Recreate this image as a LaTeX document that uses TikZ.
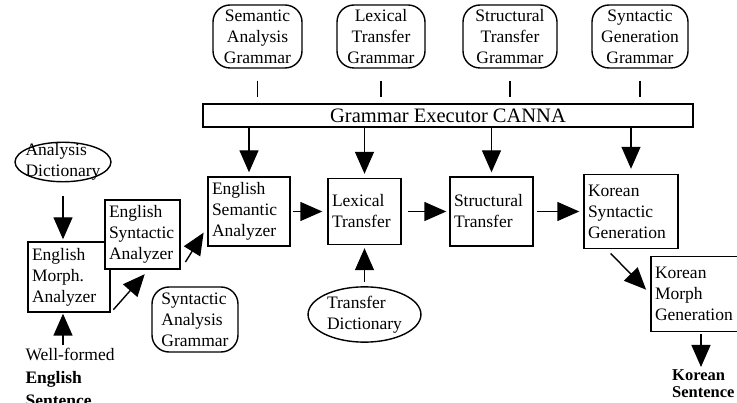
\documentclass[tikz,border=0pt]{standalone}
\usepackage{fontspec}
\setmainfont{Liberation Serif}
\usetikzlibrary{arrows.meta,positioning,shapes.geometric}

\begin{document}
\begin{tikzpicture}[x=1pt,y=-1pt,on grid,
    every node/.style={font=\fontsize{17.5}{21}\selectfont},
    proc/.style={draw,fill=white,line width=1.4pt,align=left,inner xsep=4pt,inner ysep=0pt},
    gram/.style={draw,fill=white,rounded corners=17pt,line width=1.4pt,align=center,inner sep=0pt,minimum height=63pt},
    dict/.style={draw,ellipse,line width=1.4pt,align=left},
    flow/.style={-{Triangle[length=22pt,width=19pt]},line width=1.4pt},
    tick/.style={line width=1.4pt,shorten <=12pt,shorten >=6pt}]
    \useasboundingbox (0,0) rectangle (737,403);
    % main row
    \node[proc,text width=74pt,minimum height=69pt] (esa) at (249,211.5) {English\\Semantic\\Analyzer};
    \node[proc,text width=65pt,minimum height=66pt] (lex)    [right=115.5pt of esa]   {Lexical\\Transfer};
    \node[proc,text width=75pt,minimum height=69pt] (struct) [right=127pt of lex]     {Structural\\Transfer};
    \node[proc,text width=86pt,minimum height=74pt] (ksg)    [right=139.5pt of struct] {Korean\\Syntactic\\Generation};
    \node[proc,text width=92pt,minimum height=75pt] (kmg)    [below right=82.5pt and 70pt of ksg] {Korean\\Morph\\Generation};
    % analysis side
    \node[proc,text width=74pt,minimum height=70pt] (emorph) [below left=65.5pt and 180pt of esa] {English\\Morph.\\Analyzer};
    \node[proc,text width=67pt,minimum height=69pt] (esyn)   [below left=23pt and 106.5pt of esa] {English\\Syntactic\\Analyzer};
    \node[dict,inner xsep=-3.5pt,inner ysep=-4.5pt] (adict) [above left=115pt and 6pt of emorph] {Analysis\\Dictionary};
    \node[gram,align=left,minimum width=86pt,minimum height=65pt] (sag) [below right=85pt and 52.5pt of esyn] {Syntactic\\Analysis\\Grammar};
    \node[dict,inner xsep=2.5pt,inner ysep=1pt] (tdict) [below=103pt of lex] {Transfer\\Dictionary};
    \node[anchor=north west,align=left,font=\fontsize{17.5}{23}\selectfont] (wf) at (22,345)
        {Well-formed\\\textbf{English}\\\textbf{Sentence}};
    \node[anchor=north west,align=left,inner sep=1pt,font=\fontsize{16.5}{17}\selectfont] (ks) at (671,368)
        {\textbf{Korean}\\\textbf{Sentence}};
    % grammars
    \node[draw,line width=1.4pt,minimum width=490pt,minimum height=23pt,inner sep=0pt,
        font=\fontsize{20.5}{24}\selectfont] (bar) at (448,115.5) {Grammar Executor CANNA};
    \node[gram,minimum width=89pt] (semg) at (257.5,36.5)         {Semantic\\Analysis\\Grammar};
    \node[gram,minimum width=88pt] (lexg) [right=123.5pt of semg] {Lexical\\Transfer\\Grammar};
    \node[gram,minimum width=94pt] (strg) [right=129pt of lexg]   {Structural\\Transfer\\Grammar};
    \node[gram,minimum width=96pt] (syng) [right=130pt of strg]   {Syntactic\\Generation\\Grammar};
    \path[tick]
    (semg) edge (semg |- bar.north)
    (lexg) edge (lexg |- bar.north)
    (strg) edge (strg |- bar.north)
    (syng) edge (syng |- bar.north);
    \path[flow]
    % from the executor
    (bar.south -| esa.north)    edge [shorten >=4pt] (esa.north)
    (bar.south -| lex.north)    edge [shorten >=4pt] (lex.north)
    (bar.south -| struct.north) edge [shorten >=4pt] (struct.north)
    (bar.south -| ksg.north)    edge [shorten >=5pt] (ksg.north)
    % analysis edges
    (adict) edge [shorten <=14pt,shorten >=2pt] (adict |- emorph.north)
    (wf.north -| adict) edge [shorten >=1pt] (emorph.south -| adict)
    (emorph.south east) edge [shorten <=4pt,shorten >=6pt] (esyn.-80)
    (esyn.south east) edge [shorten <=9pt,shorten >=7pt] (esa.200)
    % transfer and generation edges
    (esa) edge [shorten <=2pt,shorten >=5pt] (lex)
    (lex.east) edge [shorten <=6pt,shorten >=3pt] (lex.east -| struct.west)
    (struct.east) edge [shorten <=3pt,shorten >=4pt] (struct.east -| ksg.west)
    (tdict.north) edge [shorten <=4pt,shorten >=3pt] (tdict.north |- lex.south)
    (ksg.237) edge [shorten <=6pt,shorten >=6pt] (kmg.west)
    (kmg.south) edge [shorten <=2pt,shorten >=1pt] (kmg.south |- ks.north);
\end{tikzpicture}
\end{document}
